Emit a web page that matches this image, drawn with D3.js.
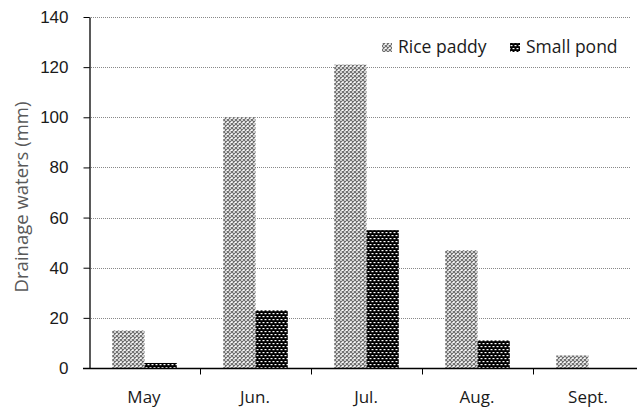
<!DOCTYPE html>
<html>
<head>
<meta charset="utf-8">
<script src="https://cdn.jsdelivr.net/npm/d3@7"></script>
<style>
  body { margin: 0; background: #fff; }
  svg { display: block; font-family: "Open Sans", "Liberation Sans", sans-serif; }
</style>
</head>
<body>
<svg id="chart" width="637" height="409"></svg>
<script>
// Monthly drainage water (mm)
const months = ["May", "Jun.", "Jul.", "Aug.", "Sept."];
const ricePaddy = [15, 100, 121, 47, 5];
const smallPond = [2, 23, 55, 11, 0];
const seriesNames = ["Rice paddy", "Small pond"];
const yTicks = [0, 20, 40, 60, 80, 100, 120, 140];

const svg = d3.select("#chart");
const margin = { left: 89, top: 17, bottom: 368 };
const plotRight = 644;

const x = d3.scaleBand().domain(months).range([margin.left, plotRight]).paddingInner(0).paddingOuter(0);
const inner = d3.scaleBand().domain(seriesNames).range([0, x.bandwidth()]).paddingInner(0).paddingOuter(0.72);
const y = d3.scaleLinear().domain([0, 140]).range([margin.bottom, margin.top]);

// fill patterns
const defs = svg.append("defs");
const pRice = defs.append("pattern").attr("id", "pat-rice").attr("patternUnits", "userSpaceOnUse")
  .attr("width", 4).attr("height", 4);
pRice.append("rect").attr("width", 4).attr("height", 4).attr("fill", "#fff");
pRice.append("path").attr("d", "M0,0 L4,4 M4,0 L0,4").attr("stroke", "#6e6e6e").attr("stroke-width", 1.2);

const pPond = defs.append("pattern").attr("id", "pat-pond").attr("patternUnits", "userSpaceOnUse")
  .attr("width", 4).attr("height", 6);
pPond.append("rect").attr("width", 4).attr("height", 6).attr("fill", "#000");
pPond.append("rect").attr("x", 0.5).attr("y", 1).attr("width", 2).attr("height", 1.2).attr("fill", "#fff");
pPond.append("rect").attr("x", 2.5).attr("y", 4).attr("width", 2).attr("height", 1.2).attr("fill", "#fff");
pPond.append("rect").attr("x", -1.5).attr("y", 4).attr("width", 2).attr("height", 1.2).attr("fill", "#fff");

const fills = { "Rice paddy": "url(#pat-rice)", "Small pond": "url(#pat-pond)" };

// dotted gridlines
svg.append("g").selectAll("line").data(yTicks.filter(d => d > 0)).join("line")
  .attr("x1", margin.left).attr("x2", 630)
  .attr("y1", d => Math.round(y(d)) + 0.5).attr("y2", d => Math.round(y(d)) + 0.5)
  .attr("stroke", "#888").attr("stroke-width", 1).attr("stroke-dasharray", "1,1");

// bars
const rows = months.map((m, i) => ({ month: m, values: [
  { name: "Rice paddy", v: ricePaddy[i] }, { name: "Small pond", v: smallPond[i] }] }));
svg.append("g").selectAll("g").data(rows).join("g")
  .attr("transform", d => `translate(${x(d.month)},0)`)
  .selectAll("rect").data(d => d.values.filter(e => e.v > 0)).join("rect")
  .attr("x", d => inner(d.name)).attr("width", inner.bandwidth())
  .attr("y", d => y(d.v)).attr("height", d => y(0) - y(d.v))
  .attr("fill", d => fills[d.name]);

// y axis
const yAxis = svg.append("g").attr("transform", `translate(${margin.left + 0.5},0)`)
  .call(d3.axisLeft(y).tickValues(yTicks).tickSize(6).tickPadding(15).tickSizeOuter(0));
yAxis.select(".domain").attr("stroke", "#000").attr("stroke-width", 1.3);
yAxis.selectAll(".tick line").attr("stroke", "#000");
yAxis.selectAll("text").attr("font-size", 17).attr("fill", "#1a1a1a");

// x axis
const xAxis = svg.append("g").attr("transform", `translate(0,${margin.bottom + 0.5})`);
xAxis.append("line").attr("x1", margin.left - 6).attr("x2", 637).attr("stroke", "#000").attr("stroke-width", 1.3);
xAxis.selectAll("line.tk").data(months.slice(1)).join("line").attr("class", "tk")
  .attr("x1", d => Math.round(x(d)) + 0.5).attr("x2", d => Math.round(x(d)) + 0.5)
  .attr("y1", 0).attr("y2", 6).attr("stroke", "#000");
xAxis.selectAll("text").data(months).join("text")
  .attr("x", d => x(d) + x.bandwidth() / 2 - 0.5).attr("y", 34)
  .attr("text-anchor", "middle").attr("font-size", 17).attr("fill", "#1a1a1a").text(d => d);

// axis title
svg.append("text").attr("transform", "translate(28,197) rotate(-90)")
  .attr("text-anchor", "middle").attr("font-size", 18.5).attr("fill", "#595959")
  .text("Drainage  waters (mm)");

// legend
const legend = svg.append("g").attr("transform", "translate(382,38)");
const legendPos = [0, 128];
seriesNames.forEach((name, i) => {
  const g = legend.append("g").attr("transform", `translate(${legendPos[i]},0)`);
  g.append("rect").attr("x", 0).attr("y", 5).attr("width", 10).attr("height", 9).attr("fill", fills[name]);
  g.append("text").attr("x", 16).attr("y", 15).attr("font-size", 17.5).attr("fill", "#1a1a1a").text(name);
});
</script>
</body>
</html>
